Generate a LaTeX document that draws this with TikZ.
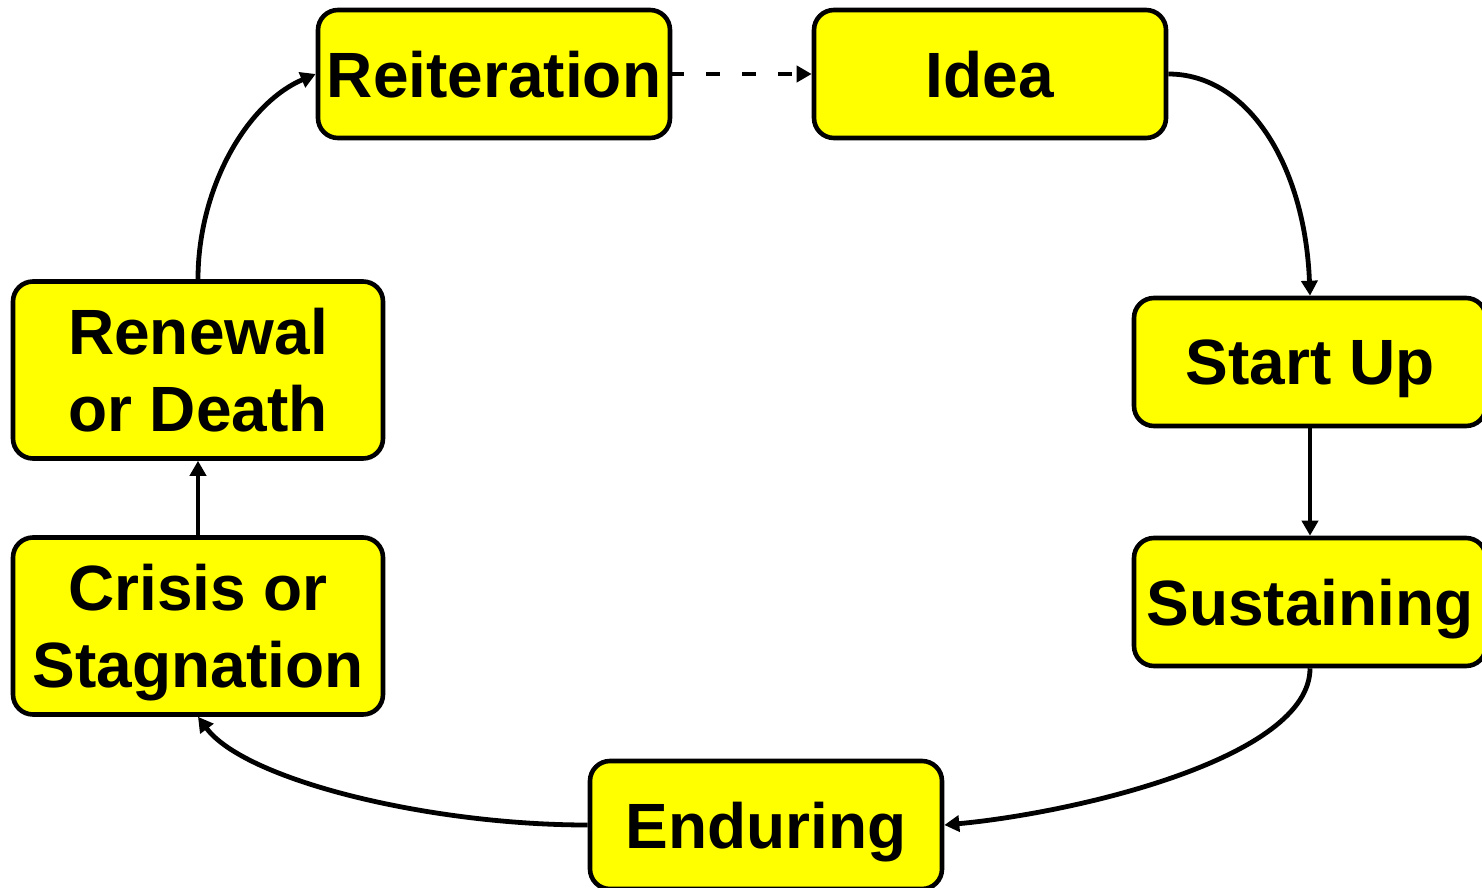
\documentclass[tikz,border=0pt]{standalone}
\usepackage{fontspec}
\setmainfont{Liberation Sans}
\usetikzlibrary{arrows.meta}
\definecolor{boxyellow}{HTML}{FFFF00}
\newcommand\twolines[2]{\vbox{\halign{\hfil##\hfil\cr #1\cr #2\cr}}}
\tikzset{
  stagebox/.style={draw=black, line width=4.6pt, fill=boxyellow, rounded corners=20pt,
    minimum width=352pt, minimum height=128pt, inner sep=0pt, text depth=0pt,
    font=\fontsize{64}{77}\selectfont\bfseries},
  tallbox/.style={stagebox, minimum width=370pt, minimum height=177pt},
  conn/.style={line width=4.8pt, -{Triangle[length=15pt,width=16pt]}},
}
\begin{document}
\begin{tikzpicture}[x=1pt,y=-1pt]
\useasboundingbox (0,0) rectangle (1482,888);
\node[stagebox] (reit) at (494,74) {Reiteration};
\node[stagebox] (idea) at (990,74) {Idea};
\node[stagebox] (start) at (1310,362) {Start Up};
\node[stagebox] (sust) at (1310,602) {Sustaining};
\node[stagebox] (endu) at (766,825) {Enduring};
\node[tallbox] (crisis) at (198,626) {\twolines{Crisis or}{Stagnation}};
\node[tallbox] (renew) at (198,370) {\twolines{Renewal}{or Death}};
\draw[conn, dash pattern=on 14pt off 22pt, dash phase=2pt] (reit.east) -- (idea.west);
\draw[conn] (idea.east) .. controls +(80,0) and +(-5,-130) .. (start.north);
\draw[conn] (start.south) -- (sust.north);
\draw[conn] (sust.south) .. controls +(0,90) and +(130,-12) .. (endu.east);
\draw[conn] (endu.west) .. controls +(-160,0) and +(47,63) .. (crisis.south);
\draw[conn] (crisis.north) -- (renew.south);
\draw[conn] (renew.north) .. controls +(0,-90) and +(-70,30) .. (reit.west);
\end{tikzpicture}
\end{document}
